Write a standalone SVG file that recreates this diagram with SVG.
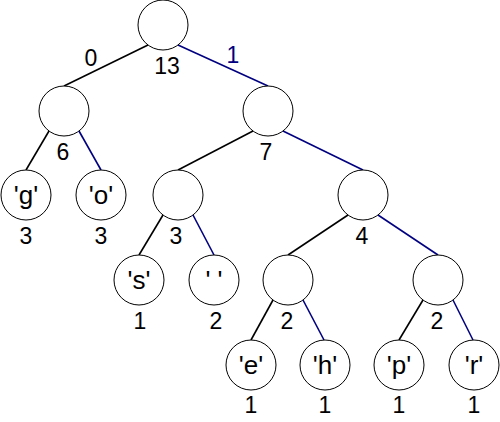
<svg xmlns="http://www.w3.org/2000/svg" width="500" height="422" viewBox="0 0 500 422">
<style>
.n circle{fill:#fff;stroke:#000;stroke-width:1}
text{font-family:"Liberation Sans",Arial,sans-serif;font-size:23px;text-anchor:middle;fill:#000}
text.l{font-size:26px}
.e0{stroke:#000;stroke-width:1.6;fill:none}
.e1{stroke:#000080;stroke-width:1.6;fill:none}
.b{fill:#000080}
</style>
<rect width="500" height="422" fill="#fff"/>
<g id="edges">
<line class="e0" x1="148" y1="45" x2="64" y2="86"/>
<line class="e1" x1="178" y1="45" x2="268" y2="86"/>
<line class="e0" x1="49" y1="131" x2="26" y2="170"/>
<line class="e1" x1="79" y1="131" x2="101" y2="170"/>
<line class="e0" x1="253" y1="131" x2="178" y2="170"/>
<line class="e1" x1="283" y1="131" x2="363" y2="170"/>
<line class="e0" x1="163" y1="215" x2="139" y2="255"/>
<line class="e1" x1="193" y1="215" x2="214" y2="255"/>
<line class="e0" x1="348" y1="215" x2="288" y2="255"/>
<line class="e1" x1="378" y1="215" x2="438" y2="255"/>
<line class="e0" x1="273" y1="300" x2="251" y2="340"/>
<line class="e1" x1="303" y1="300" x2="324" y2="340"/>
<line class="e0" x1="423" y1="300" x2="399" y2="340"/>
<line class="e1" x1="453" y1="300" x2="473" y2="340"/>
<text x="91" y="66">0</text>
<text x="233" y="63" class="b">1</text>
</g>
<g id="n13" class="n"><circle cx="163" cy="25" r="25"/><text x="167" y="74">13</text></g>
<g id="n6" class="n"><circle cx="64" cy="111" r="25"/><text x="63" y="160">6</text></g>
<g id="n7" class="n"><circle cx="268" cy="111" r="25"/><text x="266" y="160">7</text></g>
<g id="g" class="n"><circle cx="26" cy="195" r="25"/><text class="l" x="26" y="204">'g'</text><text x="26" y="244">3</text></g>
<g id="o" class="n"><circle cx="101" cy="195" r="25"/><text class="l" x="101" y="204">'o'</text><text x="101" y="244">3</text></g>
<g id="n3" class="n"><circle cx="178" cy="195" r="25"/><text x="176" y="244">3</text></g>
<g id="n4" class="n"><circle cx="363" cy="195" r="25"/><text x="362" y="244">4</text></g>
<g id="s" class="n"><circle cx="139" cy="280" r="25"/><text class="l" x="139" y="289">'s'</text><text x="140" y="329">1</text></g>
<g id="sp" class="n"><circle cx="214" cy="280" r="25"/><text class="l" x="214" y="289">' '</text><text x="216" y="329">2</text></g>
<g id="n2a" class="n"><circle cx="288" cy="280" r="25"/><text x="287" y="329">2</text></g>
<g id="n2b" class="n"><circle cx="438" cy="280" r="25"/><text x="437" y="329">2</text></g>
<g id="e" class="n"><circle cx="251" cy="365" r="25"/><text class="l" x="251" y="374">'e'</text><text x="251" y="413">1</text></g>
<g id="h" class="n"><circle cx="325" cy="365" r="25"/><text class="l" x="325" y="374">'h'</text><text x="325" y="413">1</text></g>
<g id="p" class="n"><circle cx="399" cy="365" r="25"/><text class="l" x="399" y="374">'p'</text><text x="399" y="413">1</text></g>
<g id="r" class="n"><circle cx="474" cy="365" r="25"/><text class="l" x="474" y="374">'r'</text><text x="474" y="413">1</text></g>
</svg>
